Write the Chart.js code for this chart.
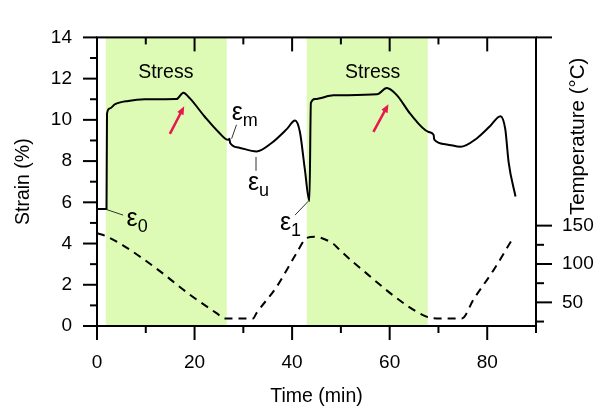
<!DOCTYPE html>
<html>
<head>
<meta charset="utf-8">
<script src="https://cdn.jsdelivr.net/npm/chart.js@4.4.0/dist/chart.umd.min.js"></script>
<style>
    html, body { margin: 0; padding: 0; background: #fff; }
    #strainChart { display: block; }
</style>
</head>
<body>
<canvas id="strainChart" width="594" height="414"></canvas>
<script>
// strain (%) against time (min)
const strainTime = [0, 1.95, 2.05, 2.6, 3.65, 6.4, 9.8, 16.3, 17.7, 19.05,
    22.1, 24.9, 26.9, 27.15, 27.3, 29.0, 32.7, 35.8, 38.9, 40.6,
    41.6, 42.6, 43.55, 43.85, 44.7, 48.5, 57.4, 59.4, 61.5, 64.2,
    68.0, 69.0, 69.15, 71.7, 74.5, 77.9, 80.6, 82.7, 83.7, 84.4, 85.8];
const strainValues = [5.68, 5.68, 10.3, 10.55, 10.75, 10.92, 11.0, 11.01, 11.32, 11.04,
    10.15, 9.41, 9.03, 9.08, 8.88, 8.66, 8.47, 8.88, 9.55, 9.97,
    9.41, 7.62, 6.06, 10.82, 11.01, 11.19, 11.24, 11.54, 11.19, 10.3,
    9.41, 9.28, 9.04, 8.81, 8.69, 9.11, 9.7, 10.18, 9.55, 7.92, 6.28];

// temperature (°C) against time (min)
const tempTime = [0, 1.6, 5.4, 12.2, 19.05, 24.5, 26.2, 32.0, 32.7, 36.8,
    40.9, 43.0, 44.6, 45.7, 48.5, 49.5, 52.6, 67.3, 69.7, 74.8,
    77.2, 81.3, 85.1];
const tempValues = [140, 137, 124, 94, 60, 36, 29, 29, 36, 70,
    114, 134, 135.5, 134.5, 126, 120, 102, 32, 29, 29,
    54, 92, 132];

// stress periods (min)
const stressStart = [1.8, 43.0];
const stressEnd = [26.6, 67.8];

const xTicks = [0, 20, 40, 60, 80];
const xMinorTicks = [10, 30, 50, 70, 90];
const strainTicks = [0, 2, 4, 6, 8, 10, 12, 14];
const strainMinorTicks = [1, 3, 5, 7, 9, 11, 13];
const tempTicks = [50, 100, 150];
const tempMinorTicks = [25, 75, 125];

const fontFamily = "'Liberation Sans', Arial, sans-serif";

if (document.readyState == 'loading') {
    document.addEventListener('DOMContentLoaded', ready);
} else {
    ready();
}

function ready() {
    Chart.defaults.font.family = fontFamily;
    Chart.defaults.color = '#000';
    createStrainChart();
}

function createStrainChart() {
    const canvas = document.getElementById('strainChart');

    // notes placed in data units
    const stressLabels = [14.1, 56.5];
    const epsilonNotes = [
        { sub: 'm', x: 27.6, y: 9.99, from: [28.6, 9.76], to: [27.6, 9.09] },
        { sub: 'u', x: 30.95, y: 6.58, from: [32.6, 8.2], to: [32.6, 7.53] },
        { sub: '0', x: 6.05, y: 4.85, from: [1.95, 5.65], to: [5.36, 5.38] },
        { sub: '1', x: 37.5, y: 4.64, from: [40.6, 5.38], to: [43.3, 6.05] }
    ];
    const arrows = [
        { from: [14.94, 9.32], to: [17.88, 10.66] },
        { from: [56.67, 9.42], to: [59.75, 10.76] }
    ];

    const stressBands = {
        id: 'stressBands',
        beforeDatasetsDraw(chart) {
            const { ctx, chartArea: { top, bottom }, scales: { x } } = chart;
            ctx.save();
            ctx.fillStyle = '#ddfbb4';
            stressStart.forEach((start, index) => {
                const x0 = x.getPixelForValue(start);
                const x1 = x.getPixelForValue(stressEnd[index]);
                ctx.fillRect(x0, top, x1 - x0, bottom - top);
            });

            ctx.fillStyle = '#000';
            ctx.font = `19.5px ${fontFamily}`;
            ctx.textAlign = 'center';
            ctx.textBaseline = 'middle';
            stressLabels.forEach((value) => {
                ctx.fillText('Stress', x.getPixelForValue(value), top + 35);
            });
            ctx.restore();
        }
    };

    const frameAndNotes = {
        id: 'frameAndNotes',
        afterDraw(chart) {
            const { ctx, chartArea: { top, bottom, left, right }, scales: { x, y, y2 } } = chart;
            const major = 14;
            const minor = 7;

            function line(x1, y1, x2, y2) {
                ctx.beginPath();
                ctx.moveTo(x1, y1);
                ctx.lineTo(x2, y2);
                ctx.stroke();
            }

            ctx.save();
            ctx.strokeStyle = '#000';
            ctx.lineWidth = 2;
            ctx.lineCap = 'square';
            ctx.strokeRect(left, top, right - left, bottom - top);
            ctx.lineCap = 'butt';

            // bottom (outward) and top (inward) ticks
            xTicks.forEach((v) => {
                const px = x.getPixelForValue(v);
                line(px, bottom, px, bottom + major);
                line(px, top, px, top + major);
            });
            xMinorTicks.forEach((v) => {
                const px = x.getPixelForValue(v);
                line(px, bottom, px, bottom + minor);
                line(px, top, px, top + minor);
            });

            // strain axis ticks
            strainTicks.forEach((v) => {
                const py = y.getPixelForValue(v);
                line(left - major, py, left, py);
            });
            strainMinorTicks.forEach((v) => {
                const py = y.getPixelForValue(v);
                line(left - minor, py, left, py);
            });

            // temperature axis ticks
            tempTicks.forEach((v) => {
                const py = y2.getPixelForValue(v);
                line(right, py, right + major + 2, py);
            });
            tempMinorTicks.forEach((v) => {
                const py = y2.getPixelForValue(v);
                line(right, py, right + minor + 1, py);
            });
            line(right, top, right + major + 2, top);

            // axis titles
            ctx.fillStyle = '#000';
            ctx.font = `19.5px ${fontFamily}`;
            ctx.textAlign = 'center';
            ctx.textBaseline = 'middle';
            ctx.fillText('Time (min)', (left + right) / 2, bottom + 71);

            ctx.save();
            ctx.translate(24, (top + bottom) / 2);
            ctx.rotate(-Math.PI / 2);
            ctx.fillText('Strain (%)', 0, 0);
            ctx.restore();

            ctx.save();
            ctx.translate(right + 42, top + 99);
            ctx.rotate(-Math.PI / 2);
            ctx.font = `20.5px ${fontFamily}`;
            ctx.fillText('Temperature (°C)', 0, 0);
            ctx.restore();

            // epsilon notes with leader lines
            ctx.lineWidth = 1;
            ctx.strokeStyle = '#333';
            ctx.textAlign = 'left';
            ctx.textBaseline = 'alphabetic';
            epsilonNotes.forEach((note) => {
                line(x.getPixelForValue(note.from[0]), y.getPixelForValue(note.from[1]),
                    x.getPixelForValue(note.to[0]), y.getPixelForValue(note.to[1]));
                const px = x.getPixelForValue(note.x);
                const py = y.getPixelForValue(note.y);
                ctx.font = `25px ${fontFamily}`;
                ctx.fillText('ε', px, py);
                const w = ctx.measureText('ε').width;
                ctx.font = `18px ${fontFamily}`;
                ctx.fillText(note.sub, px + w, py + 6);
            });

            // red arrows
            ctx.strokeStyle = '#e8174e';
            ctx.fillStyle = '#e8174e';
            ctx.lineWidth = 2.5;
            arrows.forEach((arrow) => {
                const x1 = x.getPixelForValue(arrow.from[0]);
                const y1 = y.getPixelForValue(arrow.from[1]);
                const x2 = x.getPixelForValue(arrow.to[0]);
                const y2p = y.getPixelForValue(arrow.to[1]);
                const angle = Math.atan2(y2p - y1, x2 - x1);
                const head = 9;
                line(x1, y1, x2 - Math.cos(angle) * head * 0.6, y2p - Math.sin(angle) * head * 0.6);
                ctx.beginPath();
                ctx.moveTo(x2, y2p);
                ctx.lineTo(x2 - head * Math.cos(angle - 0.4), y2p - head * Math.sin(angle - 0.4));
                ctx.lineTo(x2 - head * Math.cos(angle + 0.4), y2p - head * Math.sin(angle + 0.4));
                ctx.closePath();
                ctx.fill();
            });
            ctx.restore();
        }
    };

    const data = {
        datasets: [{
            label: 'Strain',
            data: strainTime.map((t, i) => ({ x: t, y: strainValues[i] })),
            yAxisID: 'y',
            borderColor: '#000',
            borderWidth: 2,
            pointRadius: 0,
            fill: false,
            cubicInterpolationMode: 'monotone'
        }, {
            label: 'Temperature',
            data: tempTime.map((t, i) => ({ x: t, y: tempValues[i] })),
            yAxisID: 'y2',
            borderColor: '#000',
            borderWidth: 2,
            borderDash: [8, 6],
            pointRadius: 0,
            fill: false,
            cubicInterpolationMode: 'monotone'
        }]
    };

    const config = {
        type: 'line',
        data,
        options: {
            responsive: false,
            animation: false,
            events: [],
            layout: {
                padding: { top: 12 }
            },
            plugins: {
                legend: { display: false },
                tooltip: { enabled: false }
            },
            scales: {
                x: {
                    type: 'linear',
                    position: 'bottom',
                    min: 0,
                    max: 90,
                    afterBuildTicks: (axis) => { axis.ticks = xTicks.map((v) => ({ value: v })); },
                    afterFit: (axis) => { axis.height = 88; },
                    grid: { display: false, drawTicks: false },
                    border: { display: false },
                    ticks: { font: { size: 19 }, padding: 25, maxRotation: 0 }
                },
                y: {
                    position: 'left',
                    min: 0,
                    max: 14,
                    afterBuildTicks: (axis) => { axis.ticks = strainTicks.map((v) => ({ value: v })); },
                    afterFit: (axis) => { axis.width = 97; },
                    grid: { display: false, drawTicks: false },
                    border: { display: false },
                    ticks: { font: { size: 19 }, padding: 25 }
                },
                y2: {
                    position: 'right',
                    min: 19.2,
                    max: 395.3,
                    afterBuildTicks: (axis) => { axis.ticks = tempTicks.map((v) => ({ value: v })); },
                    afterFit: (axis) => { axis.width = 58; },
                    grid: { display: false, drawTicks: false },
                    border: { display: false },
                    ticks: { font: { size: 19 }, padding: 26 }
                }
            }
        },
        plugins: [stressBands, frameAndNotes]
    };

    const chart = new Chart(canvas, config);
}
</script>
</body>
</html>
